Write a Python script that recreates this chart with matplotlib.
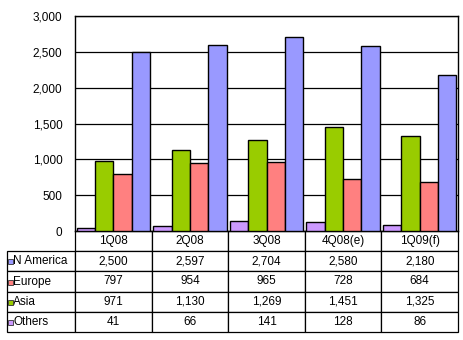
import matplotlib
matplotlib.use("Agg")
import matplotlib.pyplot as plt
import numpy as np

quarters = ["1Q08", "2Q08", "3Q08", "4Q08(e)", "1Q09(f)"]
n_america = [2500, 2597, 2704, 2580, 2180]
europe = [797, 954, 965, 728, 684]
asia = [971, 1130, 1269, 1451, 1325]
others = [41, 66, 141, 128, 86]

# table order (top to bottom) and colours
row_names = ["N America", "Europe", "Asia", "Others"]
row_values = [n_america, europe, asia, others]
row_colors = ["#9999FF", "#FF8080", "#99CC00", "#CC99FF"]

plt.rcParams["font.family"] = ["Liberation Sans", "DejaVu Sans"]
plt.rcParams["font.size"] = 8.5

fig = plt.figure(figsize=(4.63, 3.40), dpi=100)
ax = fig.add_axes([75 / 463, 1 - 231 / 340, 383 / 463, 215 / 340])

# bars: Others, Asia, Europe, N America within each quarter
x = np.arange(len(quarters))
width = 0.24
bar_order = [3, 2, 1, 0]
for k, idx in enumerate(bar_order):
    ax.bar(x - 0.48 + width * k + width / 2, row_values[idx], width,
           color=row_colors[idx], edgecolor="black", linewidth=1.0, zorder=3)

ax.set_xlim(-0.5, len(quarters) - 0.5)
ax.set_ylim(0, 3000)
ax.set_yticks(np.arange(0, 3001, 500))
ax.set_yticklabels(["{:,}".format(v) for v in range(0, 3001, 500)])
ax.yaxis.grid(True, color="black", linewidth=0.9, zorder=0)
ax.tick_params(axis="y", length=0, pad=9)
ax.set_xticks([])
for s in ax.spines.values():
    s.set_linewidth(1.0)

# data table below the plot (first column holds the series names)
label_w = 68 / 383
col_w = 1 / len(quarters)
cell_text = [[""] + quarters]
for name, vals in zip(row_names, row_values):
    cell_text.append([name] + ["{:,}".format(v) for v in vals])
tbl = ax.table(cellText=cell_text, cellLoc="center",
               colWidths=[label_w] + [col_w] * len(quarters),
               bbox=[-label_w, -101 / 215, 1 + label_w, 101 / 215])
tbl.auto_set_font_size(False)
tbl.set_fontsize(8.5)
for (r, c), cell in tbl.get_celld().items():
    cell.set_linewidth(0.9)
    cell.set_edgecolor("black")
    if c == 0:
        cell._loc = "left"
        cell.get_text().set_horizontalalignment("left")
        cell.PAD = 0.09
        if r == 0:
            cell.visible_edges = ""

# colour keys in the series name cells
row_h = 101 / 215 / 5
for i, col in enumerate(row_colors):
    yc = -row_h * (i + 1) - row_h / 2
    ax.plot([-label_w + 3.2 / 383], [yc], marker="s", markersize=3.6,
            color=col, markeredgecolor="#333333", markeredgewidth=0.6,
            transform=ax.transAxes, clip_on=False)

fig.savefig("out.png", dpi=100)
